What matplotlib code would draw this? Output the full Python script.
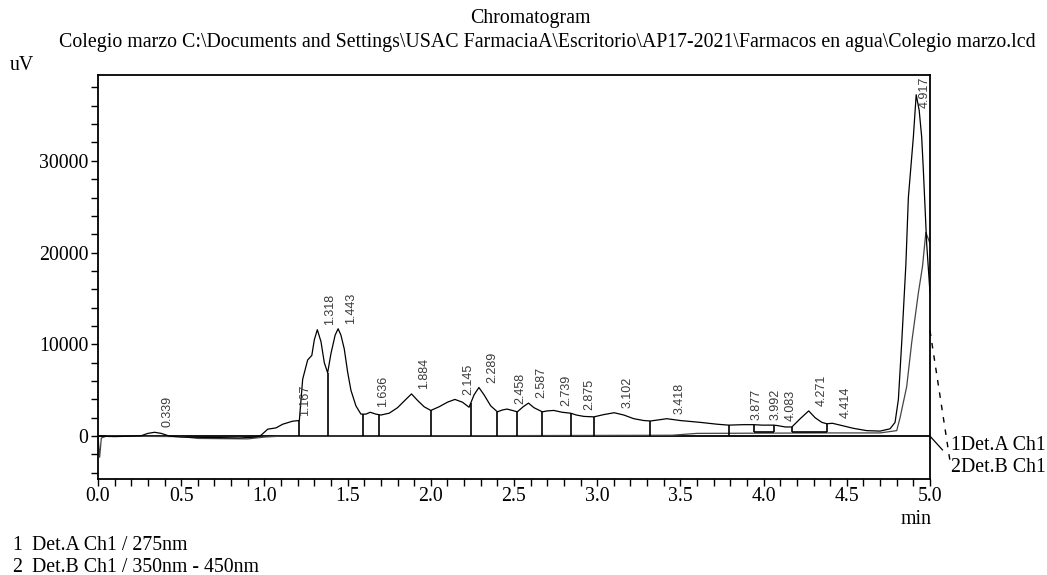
import numpy as np
import matplotlib
matplotlib.use("Agg")
import matplotlib.pyplot as plt
from matplotlib.ticker import MultipleLocator

plt.rcParams['font.family'] = ['Liberation Serif', 'DejaVu Serif']

# Det.A Ch1 trace (min, uV)
det_a_t = [0.00, 0.10, 0.20, 0.26, 0.30, 0.34, 0.38, 0.43, 0.50, 0.70, 0.85, 0.95, 0.98,
           1.02, 1.07, 1.11, 1.17, 1.21, 1.23, 1.26, 1.285, 1.30, 1.318, 1.34, 1.36, 1.38,
           1.40, 1.425, 1.443, 1.46, 1.48, 1.50, 1.52, 1.55, 1.58, 1.61, 1.636, 1.67, 1.70,
           1.75, 1.80, 1.85, 1.884, 1.92, 1.96, 2.00, 2.05, 2.10, 2.145, 2.19, 2.23, 2.26,
           2.289, 2.32, 2.36, 2.40, 2.43, 2.458, 2.49, 2.52, 2.555, 2.587, 2.62, 2.67, 2.70,
           2.739, 2.79, 2.84, 2.875, 2.92, 2.98, 3.04, 3.102, 3.16, 3.22, 3.28, 3.32, 3.38,
           3.418, 3.50, 3.62, 3.72, 3.79, 3.877, 3.94, 3.992, 4.06, 4.083, 4.13, 4.17, 4.22,
           4.271, 4.31, 4.35, 4.38, 4.414, 4.46, 4.54, 4.62, 4.70, 4.76, 4.79, 4.81, 4.83,
           4.855, 4.87, 4.90, 4.917, 4.935, 4.95, 4.96, 4.98, 5.00]
det_a_v = [0, -50, 0, 50, 300, 420, 300, 0, -100, -150, -200, -100, 100,
           760, 900, 1300, 1630, 1700, 6200, 8300, 8800, 10500, 11600, 10300, 8000, 6900,
           9000, 11000, 11700, 11000, 9500, 7000, 5000, 3300, 2400, 2400, 2600, 2400, 2300,
           2500, 3100, 4000, 4600, 3900, 3200, 2800, 3200, 3700, 4000, 3700, 3150, 4500,
           5300, 4500, 3300, 2650, 2850, 2950, 2800, 2650, 3200, 3600, 3100, 2650, 2750,
           2800, 2600, 2500, 2300, 2150, 2100, 2350, 2550, 2300, 1900, 1700, 1650, 1800,
           1900, 1700, 1500, 1300, 1200, 1250, 1250, 1200, 1200, 1150, 1000, 1000, 1900,
           2750, 2000, 1500, 1350, 1400, 1200, 850, 600, 550, 800, 1500, 4000, 10200,
           18700, 26000, 32600, 37200, 35500, 32600, 29000, 21000, 15600]

# Det.B Ch1 trace
det_b_t = [0.00, 0.01, 0.02, 0.05, 0.50, 0.60, 0.90, 1.00, 1.10, 3.45, 3.60, 4.40, 4.70,
           4.80, 4.82, 4.86, 4.89, 4.93, 4.955, 4.975, 5.00]
det_b_v = [0, -2300, -200, 0, -50, -250, -300, -100, 0, 100, 300, 350, 350,
           600, 2000, 5400, 10200, 15600, 18500, 22200, 21000]

# peak labels (retention times)
peak_rt = [0.339, 1.167, 1.318, 1.443, 1.636, 1.884, 2.145, 2.289, 2.458, 2.587, 2.739,
           2.875, 3.102, 3.418, 3.877, 3.992, 4.083, 4.271, 4.414, 4.917]
peak_txt = ['0.339', '1.167', '1.318', '1.443', '1.636', '1.884', '2.145', '2.289', '2.458',
            '2.587', '2.739', '2.875', '3.102', '3.418', '3.877', '3.992', '4.083', '4.271',
            '4.414', '4.917']

# peak separation drop lines and where they end
drop_t = [1.21, 1.38, 1.59, 1.69, 2.00, 2.24, 2.40, 2.52, 2.67, 2.84, 2.98, 3.32, 3.79,
          3.94, 4.06, 4.17, 4.38]
drop_bottom = [0, 0, 0, 0, 0, 0, 0, 0, 0, 0, 0, 0, 0, 400, 400, 400, 400]

W, H = 1047, 575
FS = 14.3
fig = plt.figure(figsize=(W / 100, H / 100), dpi=100)
ax = fig.add_axes([98 / W, 1 - 479 / H, (930 - 98) / W, (479 - 75) / H])

ax.axhline(0, color='black', lw=1.3, zorder=1)
ax.plot(det_b_t, det_b_v, color='#444444', lw=0.9, zorder=2)
ax.plot(det_a_t, det_a_v, color='black', lw=0.9, zorder=3)

tops = np.interp(drop_t, det_a_t, det_a_v)
ax.vlines(drop_t, drop_bottom, tops, color='black', lw=1.2, zorder=3)
ax.hlines([400, 400], [3.94, 4.17], [4.06, 4.38], color='black', lw=1.2, zorder=3)

for rt, txt in zip(peak_rt, peak_txt):
    if txt == '4.917':
        ax.annotate(txt, (rt, 39350), xytext=(1.5, -1), textcoords='offset points',
                    rotation=90, ha='left', va='top', fontsize=9,
                    family='Liberation Sans', color='#3a3a3a')
        continue
    h = np.interp(rt, det_a_t, det_a_v)
    ax.annotate(txt, (rt, h), xytext=(5, 3.5), textcoords='offset points',
                rotation=90, ha='left', va='bottom', fontsize=9,
                family='Liberation Sans', color='#3a3a3a')

ax.set_xlim(0, 5.0)
ax.set_ylim(-4670, 39350)
ax.xaxis.set_major_locator(MultipleLocator(0.5))
ax.xaxis.set_minor_locator(MultipleLocator(0.1))
ax.yaxis.set_minor_locator(MultipleLocator(2000))
ax.xaxis.set_major_formatter(matplotlib.ticker.FormatStrFormatter('%.1f'))
ax.set_yticks([0, 10000, 20000, 30000])
ax.tick_params(which='both', direction='out', length=5, width=1, labelsize=FS)
ax.tick_params(axis='x', pad=1)
ax.tick_params(axis='y', pad=2)
for s in ax.spines.values():
    s.set_linewidth(1.3)

# leaders to the channel labels
ax.plot([5.0, 5.075], [0, -1500], color='black', lw=0.9, clip_on=False)
ax.plot([5.0, 5.12], [11500, -2700], color='black', lw=1.0, ls=(0, (4, 5)), clip_on=False)

fig.text(530 / W, 1 - 18 / H, 'Chromatogram', ha='center', va='center', fontsize=FS)
fig.text(547 / W, 1 - 42 / H,
         'Colegio marzo C:\\Documents and Settings\\USAC FarmaciaA\\Escritorio\\AP17-2021\\Farmacos en agua\\Colegio marzo.lcd',
         ha='center', va='center', fontsize=FS)
fig.text(10 / W, 1 - 65 / H, 'uV', ha='left', va='center', fontsize=FS)
fig.text(932 / W, 1 - 519 / H, 'min', ha='right', va='center', fontsize=FS)
fig.text(951 / W, 1 - 445 / H, '1Det.A Ch1', ha='left', va='center', fontsize=FS)
fig.text(951 / W, 1 - 467 / H, '2Det.B Ch1', ha='left', va='center', fontsize=FS)
fig.text(12 / W, 1 - 545 / H, '1', ha='left', va='center', fontsize=FS)
fig.text(32 / W, 1 - 545 / H, 'Det.A Ch1 / 275nm', ha='left', va='center', fontsize=FS)
fig.text(12 / W, 1 - 567 / H, '2', ha='left', va='center', fontsize=FS)
fig.text(32 / W, 1 - 567 / H, 'Det.B Ch1 / 350nm - 450nm', ha='left', va='center', fontsize=FS)

fig.savefig('out.png', dpi=100)
